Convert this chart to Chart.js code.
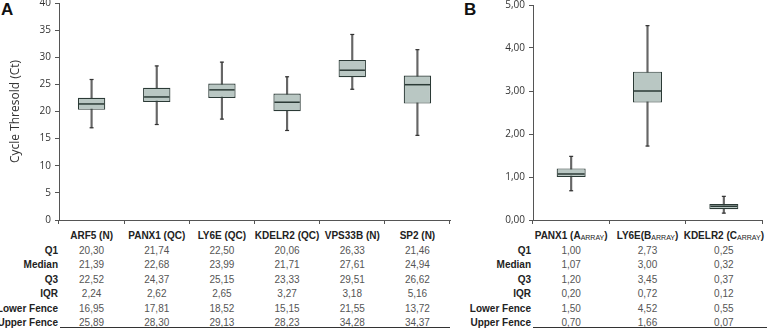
<!DOCTYPE html>
<html>
<head>
<meta charset="utf-8">
<script src="https://cdn.jsdelivr.net/npm/chart.js@4.4.1/dist/chart.umd.min.js"></script>
<style>
  body { margin: 0; background: #fff; width: 767px; height: 328px; overflow: hidden; position: relative; font-family: "Liberation Sans", Arial, sans-serif; }
  canvas { position: absolute; top: 0; }
  .cell { position: absolute; white-space: nowrap; transform: translate(-50%, -50%); font-size: 10px; color: #555; }
  .head { font-weight: bold; color: #222; }
  .rowlab { position: absolute; white-space: nowrap; transform: translate(-100%, -50%); font-size: 10px; font-weight: bold; color: #222; }
  .sub { font-size: 7px; font-weight: normal; position: relative; top: 1px; }
  .panel { position: absolute; top: 0; font: bold 17px "Liberation Sans", Arial, sans-serif; color: #111; }
  .rule { position: absolute; height: 1px; background: #333; }
</style>
</head>
<body>
<div class="panel" style="left:1px">A</div>
<div class="panel" style="left:464px">B</div>
<canvas id="chartA" width="455" height="226" style="left:0"></canvas>
<canvas id="chartB" width="297" height="226" style="left:470px"></canvas>
<div id="tables"></div>
<script>
// Panel A: Ct values per gene
const genesA = ["ARF5 (N)", "PANX1 (QC)", "LY6E (QC)", "KDELR2 (QC)", "VPS33B (N)", "SP2 (N)"];
const q1A = [20.30, 21.74, 22.50, 20.06, 26.33, 21.46];
const medianA = [21.39, 22.68, 23.99, 21.71, 27.61, 24.94];
const q3A = [22.52, 24.37, 25.15, 23.33, 29.51, 26.62];
const iqrA = [2.24, 2.62, 2.65, 3.27, 3.18, 5.16];
const lowerFenceA = [16.95, 17.81, 18.52, 15.15, 21.55, 13.72];
const upperFenceA = [25.89, 28.30, 29.13, 28.23, 34.28, 34.37];
// whisker ends as drawn
const minA = [17.0, 17.6, 18.6, 16.5, 24.1, 15.6];
const maxA = [25.9, 28.4, 29.1, 26.4, 34.2, 31.4];

// Panel B: array genes
const genesB = ["PANX1 (A", "LY6E(B", "KDELR2 (C"];
const genesSubB = ["ARRAY", "ARRAY", "ARRAY"];
const q1B = [1.00, 2.73, 0.25];
const medianB = [1.07, 3.00, 0.32];
const q3B = [1.20, 3.45, 0.37];
const iqrB = [0.20, 0.72, 0.12];
const lowerFenceB = [1.50, 4.52, 0.55];
const upperFenceB = [0.70, 1.66, 0.07];
const minB = [0.68, 1.72, 0.16];
const maxB = [1.48, 4.52, 0.55];

const rowLabels = ["Q1", "Median", "Q3", "IQR", "Lower Fence", "Upper Fence"];
const rowY = [249.5, 264, 278.5, 293, 307.5, 321.5];
const headY = 235;

const BOX_FILL = "#b9c7c3";
const BOX_EDGE = "#2b3a36";
const WHISKER = "#666";
const AXIS = "#555";

function comma(v) {
  return v.toFixed(2).replace(".", ",");
}

// median line + whisker caps
const boxExtras = {
  id: "boxExtras",
  afterDatasetsDraw(chart, args, opts) {
    const ctx = chart.ctx;
    const x = chart.scales.x;
    const y = chart.scales.y;
    const meta = chart.getDatasetMeta(0);
    ctx.save();
    opts.median.forEach((m, i) => {
      const bar = meta.data[i];
      const half = bar.width / 2;
      const cx = x.getPixelForValue(i);
      ctx.strokeStyle = BOX_EDGE;
      ctx.lineWidth = 1.5;
      ctx.beginPath();
      ctx.moveTo(cx - half + 1, y.getPixelForValue(m));
      ctx.lineTo(cx + half - 1, y.getPixelForValue(m));
      ctx.stroke();
      ctx.strokeStyle = "#333";
      ctx.lineWidth = 1.2;
      [opts.min[i], opts.max[i]].forEach((v) => {
        const py = y.getPixelForValue(v);
        ctx.beginPath();
        ctx.moveTo(cx - 2, py);
        ctx.lineTo(cx + 2, py);
        ctx.stroke();
      });
    });
    ctx.restore();
  },
};

function makeChart(id, labels, q1, q3, mins, maxs, med, yOpts, padTop, yWidth, barPct) {
  return new Chart(document.getElementById(id), {
    type: "bar",
    data: {
      labels: labels,
      datasets: [
        {
          data: q1.map((v, i) => [v, q3[i]]),
          backgroundColor: BOX_FILL,
          borderColor: BOX_EDGE,
          borderWidth: 1.2,
          borderSkipped: false,
          categoryPercentage: 1,
          barPercentage: barPct,
          grouped: false,
        },
        {
          data: mins.map((v, i) => [v, maxs[i]]),
          backgroundColor: WHISKER,
          barThickness: 1.5,
          grouped: false,
        },
      ],
    },
    options: {
      responsive: false,
      animation: false,
      layout: { padding: { top: padTop, right: 5, left: 0, bottom: 0 } },
      plugins: {
        legend: { display: false },
        tooltip: { enabled: false },
        boxExtras: { median: med, min: mins, max: maxs },
      },
      scales: {
        x: {
          offset: true,
          ticks: { display: false },
          grid: { offset: true, drawOnChartArea: false, drawTicks: true, tickLength: 4, color: AXIS },
          border: { color: AXIS },
          afterFit(scale) {
            scale.height = 6;
          },
        },
        y: Object.assign(
          {
            grid: { drawOnChartArea: false, drawTicks: true, tickLength: 4, color: AXIS },
            border: { color: AXIS },
            afterFit(scale) {
              scale.width = yWidth;
              scale.paddingTop = 0;
              scale.paddingBottom = 0;
            },
          },
          yOpts
        ),
      },
    },
    plugins: [boxExtras],
  });
}

const chartA = makeChart("chartA", genesA, q1A, q3A, minA, maxA, medianA, {
  min: 0,
  max: 40,
  ticks: { stepSize: 5, padding: 4, color: "#333", font: { family: "Open Sans", size: 10 } },
  title: { display: true, text: "Cycle Thresold (Ct)", color: "#333", padding: { top: 8, bottom: 0 }, font: { family: "Open Sans", size: 12 } },
}, 3, 59, 0.42);

const chartB = makeChart("chartB", genesB, q1B, q3B, minB, maxB, medianB, {
  min: 0,
  max: 5,
  ticks: { stepSize: 1, padding: 4, color: "#333", font: { family: "Open Sans", size: 10 }, callback: (v) => comma(v) },
}, 5, 63, 0.38);

// tables below each panel
const tables = document.getElementById("tables");
function addDiv(cls, html, x, y) {
  const d = document.createElement("div");
  d.className = cls;
  d.innerHTML = html;
  d.style.left = x + "px";
  d.style.top = y + "px";
  tables.appendChild(d);
}

function buildTable(chart, offsetX, headers, rows, labelRight, ruleLeft, ruleRight) {
  const x = chart.scales.x;
  headers.forEach((h, i) => addDiv("cell head", h, offsetX + x.getPixelForValue(i), headY));
  rows.forEach((vals, r) => {
    addDiv("rowlab", rowLabels[r], labelRight, rowY[r]);
    vals.forEach((v, i) => addDiv("cell", comma(v), offsetX + x.getPixelForValue(i), rowY[r]));
  });
  const rule = document.createElement("div");
  rule.className = "rule";
  rule.style.left = ruleLeft + "px";
  rule.style.width = ruleRight - ruleLeft + "px";
  rule.style.top = "327px";
  tables.appendChild(rule);
}

buildTable(chartA, 0, genesA, [q1A, medianA, q3A, iqrA, lowerFenceA, upperFenceA], 58, 60, 450);
buildTable(
  chartB,
  470,
  genesB.map((g, i) => g + '<span class="sub">' + genesSubB[i] + "</span>)"),
  [q1B, medianB, q3B, iqrB, lowerFenceB, upperFenceB],
  531,
  533,
  767
);
</script>
</body>
</html>
